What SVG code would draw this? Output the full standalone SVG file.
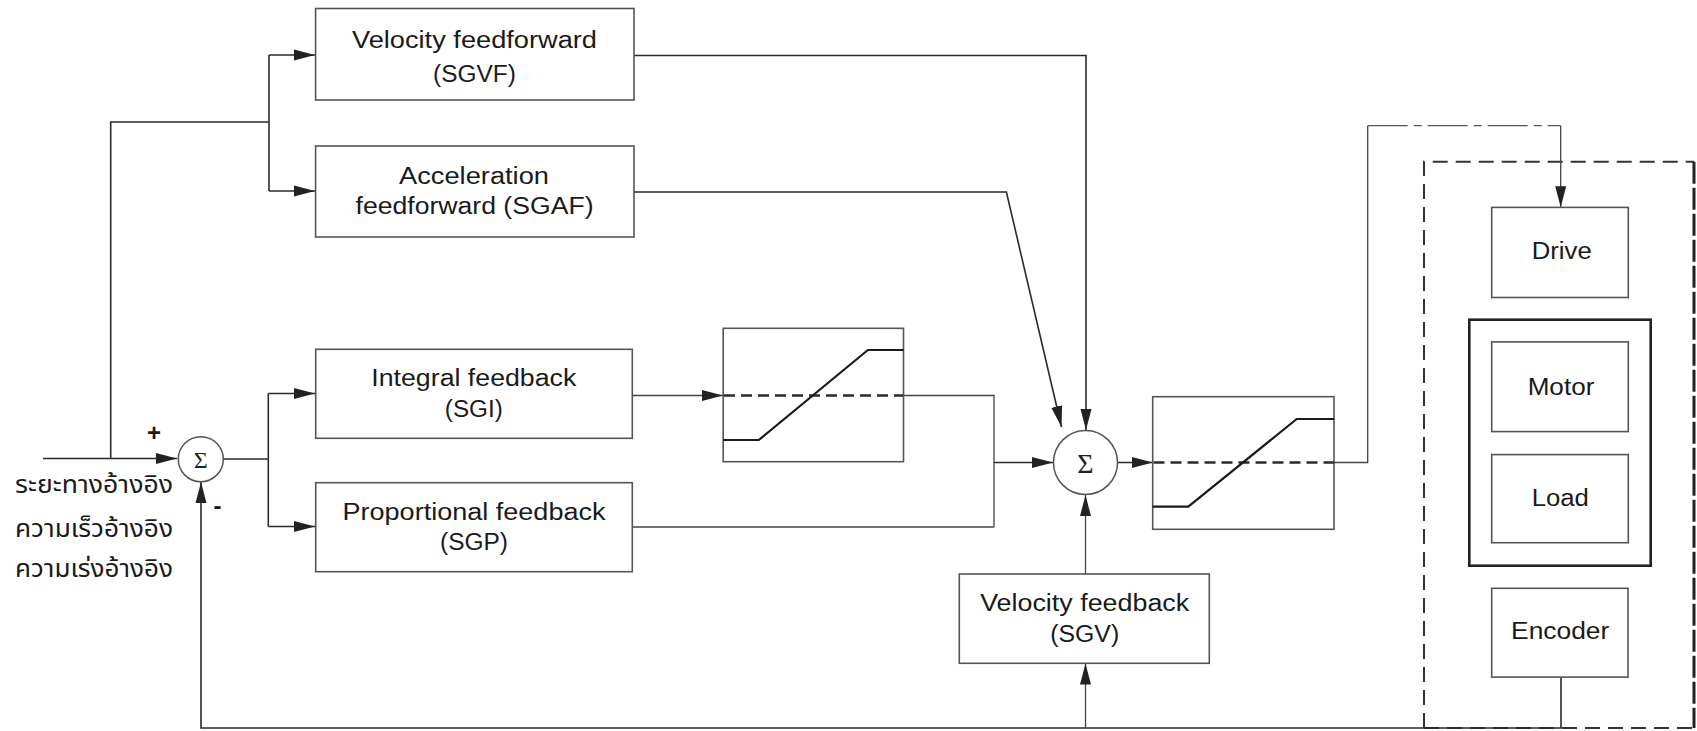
<svg xmlns="http://www.w3.org/2000/svg" width="1697" height="731" viewBox="0 0 1697 731">
  <style>
    .box { fill: #ffffff; stroke: #555; stroke-width: 1.6; }
    .thick { fill: none; stroke: #222; stroke-width: 2.6; }
    .lbl { font-family: "Liberation Sans", Arial, sans-serif; font-size: 23px; fill: #1a1a1a; text-anchor: middle; }
    .thai { font-family: "Noto Sans Thai", "Noto Sans Thai Looped", "Noto Sans", "DejaVu Sans", sans-serif; font-size: 24px; fill: #1a1a1a; }
    .sig { font-family: "Liberation Serif", "DejaVu Serif", serif; fill: #222; text-anchor: middle; }
    .sign { font-family: "Liberation Sans", Arial, sans-serif; font-weight: bold; fill: #1a1a1a; text-anchor: middle; }
    .ln { fill: none; stroke: #2a2a2a; stroke-width: 1.6; }
    .thin { fill: none; stroke: #444; stroke-width: 1.3; }
    .satdash { fill: none; stroke: #2a2a2a; stroke-width: 2.4; stroke-dasharray: 11 6; }
    .curve { fill: none; stroke: #1a1a1a; stroke-width: 2.2; }
    .dashbox { fill: none; stroke: #333; stroke-width: 2; stroke-dasharray: 15 8; }
    .dashdot { fill: none; stroke: #555; stroke-width: 1.3; stroke-dasharray: 40 6 8 6; }
  </style>
  <defs>
    <marker id="ah" markerUnits="userSpaceOnUse" markerWidth="22" markerHeight="12" refX="21" refY="6" orient="auto">
      <path d="M0,0.5 L21,6 L0,11.5 z" fill="#222"/>
    </marker>
  </defs>
  <rect width="1697" height="731" fill="#ffffff"/>

  <!-- plant boundary -->
  <g id="plant-boundary">
    <path class="dashbox" d="M1424,728 V161.7 H1694"/>
    <path fill="none" stroke="#222" stroke-width="3" stroke-dasharray="22 4" d="M1694,161.7 V728"/>
    <path class="dashbox" d="M1424,728 H1694"/>
  </g>

  <!-- connectors -->
  <g id="connectors">
    <path class="ln" d="M43,458.5 H177" marker-end="url(#ah)"/>
    <path class="ln" d="M110.7,458.5 V122 H269"/>
    <path class="ln" d="M269,55 V191"/>
    <path class="ln" d="M269,55 H315" marker-end="url(#ah)"/>
    <path class="ln" d="M269,191 H315" marker-end="url(#ah)"/>
    <path class="ln" d="M223.3,459 H268.3"/>
    <path class="ln" d="M268.3,393.5 V526.5"/>
    <path class="ln" d="M268.3,393.5 H315" marker-end="url(#ah)"/>
    <path class="ln" d="M268.3,526.5 H315" marker-end="url(#ah)"/>
    <path class="ln" d="M634,55.5 H1086 V430" marker-end="url(#ah)"/>
    <path class="ln" d="M634,192 H1006.4 L1061.5,427" marker-end="url(#ah)"/>
    <path class="thin" d="M632,395.5 H723" marker-end="url(#ah)"/>
    <path class="thin" d="M903.5,395.5 H994 V527"/>
    <path class="thin" d="M632,527 H994"/>
    <path class="ln" d="M994,462.5 H1053" marker-end="url(#ah)"/>
    <path class="thin" d="M1085.5,574 V495" marker-end="url(#ah)"/>
    <path class="ln" d="M1561,677 V728 H201 V482" marker-end="url(#ah)"/>
    <path class="thin" d="M1085.5,728 V663.5" marker-end="url(#ah)"/>
    <path class="ln" d="M1117.5,462.5 H1152.7" marker-end="url(#ah)"/>
    <path class="thin" d="M1334,462.5 H1367.7 V125.7"/>
    <path class="dashdot" d="M1367.7,125.7 H1560.7"/>
    <path class="thin" d="M1560.7,125.7 V207.3" marker-end="url(#ah)"/>
  </g>

  <!-- input labels -->
  <g id="input-labels">
    <text class="thai" x="15" y="493.3" textLength="158" lengthAdjust="spacingAndGlyphs">ระยะทางอ้างอิง</text>
    <text class="thai" x="15" y="536.7" textLength="158" lengthAdjust="spacingAndGlyphs">ความเร็วอ้างอิง</text>
    <text class="thai" x="15" y="576.7" textLength="158" lengthAdjust="spacingAndGlyphs">ความเร่งอ้างอิง</text>
  </g>

  <!-- summing junction 1 -->
  <g id="sum1">
    <circle cx="200.8" cy="459.2" r="22.5" fill="#fff" stroke="#555" stroke-width="1.5"/>
    <text class="sig" x="200.8" y="467.5" font-size="24">Σ</text>
    <text class="sign" x="154" y="441" font-size="24">+</text>
    <text class="sign" x="217.5" y="514" font-size="24">-</text>
  </g>

  <g id="sgvf">
    <rect class="box" x="315.6" y="8.5" width="318.4" height="91.5"/>
    <text class="lbl" x="474.5" y="47.5" textLength="245" lengthAdjust="spacingAndGlyphs">Velocity feedforward</text>
    <text class="lbl" x="474.5" y="81.5" textLength="83" lengthAdjust="spacingAndGlyphs">(SGVF)</text>
  </g>

  <g id="sgaf">
    <rect class="box" x="315.6" y="146" width="318.4" height="91"/>
    <text class="lbl" x="474" y="184.3" textLength="150" lengthAdjust="spacingAndGlyphs">Acceleration</text>
    <text class="lbl" x="474.5" y="213.5" textLength="238" lengthAdjust="spacingAndGlyphs">feedforward (SGAF)</text>
  </g>

  <g id="sgi">
    <rect class="box" x="315.7" y="349.3" width="316.6" height="89"/>
    <text class="lbl" x="473.8" y="385.7" textLength="205" lengthAdjust="spacingAndGlyphs">Integral feedback</text>
    <text class="lbl" x="473.8" y="416.5" textLength="58" lengthAdjust="spacingAndGlyphs">(SGI)</text>
  </g>

  <g id="sgp">
    <rect class="box" x="315.7" y="482.7" width="316.6" height="89"/>
    <text class="lbl" x="474" y="520" textLength="263" lengthAdjust="spacingAndGlyphs">Proportional feedback</text>
    <text class="lbl" x="474" y="550" textLength="68" lengthAdjust="spacingAndGlyphs">(SGP)</text>
  </g>

  <g id="saturation1">
    <rect class="box" x="723.2" y="328.3" width="180.3" height="133.4" fill="none"/>
    <path class="satdash" d="M724,395.5 H903"/>
    <path class="curve" d="M723.2,440 H758.8 L867.9,350 H903.5"/>
  </g>

  <!-- summing junction 2 -->
  <g id="sum2">
    <circle cx="1085.5" cy="462.5" r="32" fill="#fff" stroke="#555" stroke-width="1.5"/>
    <text class="sig" x="1085.5" y="472.5" font-size="28">Σ</text>
  </g>

  <g id="saturation2">
    <rect class="box" x="1152.7" y="396.7" width="181.3" height="132.6"/>
    <path class="satdash" d="M1153.5,462.5 H1334"/>
    <path class="curve" d="M1152.7,506.7 H1188.3 L1296.7,419 H1334"/>
  </g>

  <g id="sgv">
    <rect class="box" x="959.3" y="574" width="250" height="89.3"/>
    <text class="lbl" x="1084.7" y="610.7" textLength="209" lengthAdjust="spacingAndGlyphs">Velocity feedback</text>
    <text class="lbl" x="1084.7" y="641.7" textLength="69" lengthAdjust="spacingAndGlyphs">(SGV)</text>
  </g>

  <g id="drive">
    <rect class="box" x="1491.7" y="207.4" width="136.6" height="90.1"/>
    <text class="lbl" x="1561.7" y="259.3" textLength="60" lengthAdjust="spacingAndGlyphs">Drive</text>
  </g>

  <g id="motor-load">
    <rect x="1469.3" y="319.7" width="181.4" height="246" fill="#fff" stroke="#222" stroke-width="2.6"/>
  </g>

  <g id="motor">
    <rect class="box" x="1491.7" y="341.9" width="136.6" height="89.7"/>
    <text class="lbl" x="1561" y="394.5" textLength="66.7" lengthAdjust="spacingAndGlyphs">Motor</text>
  </g>

  <g id="load">
    <rect class="box" x="1491.7" y="454.6" width="136.6" height="88.1"/>
    <text class="lbl" x="1560.3" y="505.7" textLength="57.3" lengthAdjust="spacingAndGlyphs">Load</text>
  </g>

  <g id="encoder">
    <rect class="box" x="1491.7" y="588.3" width="136.3" height="88.8"/>
    <text class="lbl" x="1560.2" y="639.3" textLength="98.3" lengthAdjust="spacingAndGlyphs">Encoder</text>
  </g>
</svg>
